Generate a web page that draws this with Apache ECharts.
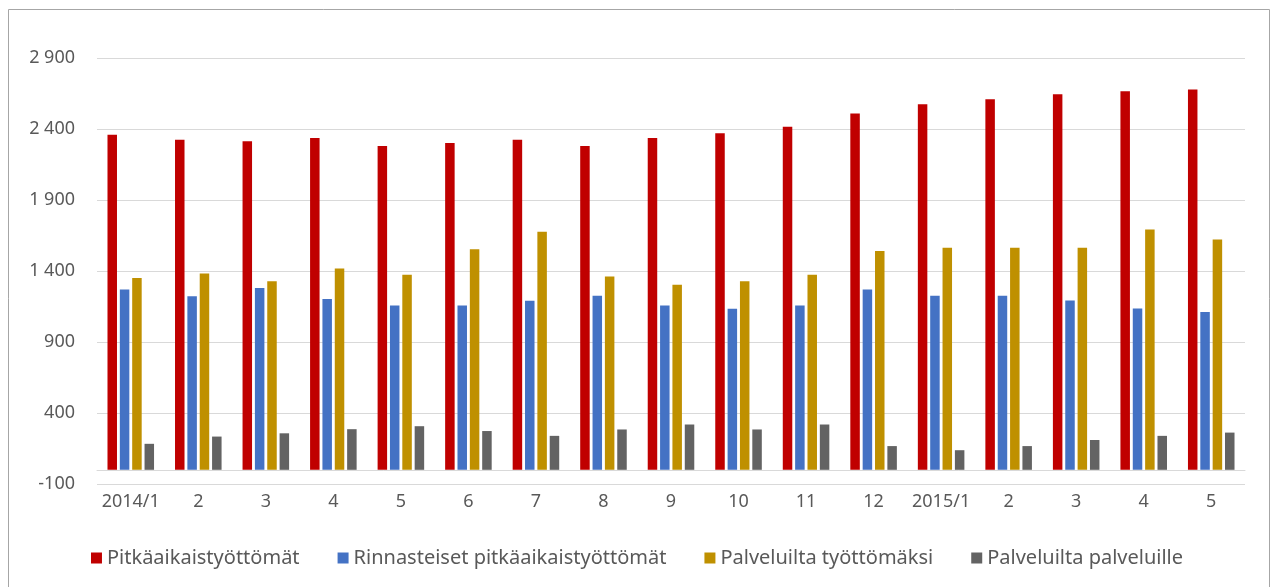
<!DOCTYPE html>
<html>
<head>
<meta charset="utf-8">
<script src="https://cdn.jsdelivr.net/npm/echarts@6/dist/echarts.min.js"></script>
<style>
html,body{margin:0;padding:0;background:#fff;}
#c{width:1274px;height:587px;}
</style>
</head>
<body>
<div id="c"></div>
<script>
const categories = ['2014/1','2','3','4','5','6','7','8','9','10','11','12','2015/1','2','3','4','5'];
const pitkaaikais = [2360,2325,2313,2336,2280,2301,2325,2280,2336,2370,2416,2510,2574,2610,2645,2666,2678];
const rinnasteiset = [1270,1223,1280,1202,1157,1157,1190,1225,1157,1134,1157,1270,1225,1225,1192,1136,1112];
const palveluiltaTyottomaksi = [1350,1383,1327,1418,1374,1553,1677,1362,1303,1327,1374,1541,1564,1564,1564,1692,1621];
const palveluiltaPalveluille = [183,234,257,286,307,273,239,284,319,284,319,167,138,167,210,239,262];
const seriesNames = ['Pitkäaikaistyöttömät','Rinnasteiset pitkäaikaistyöttömät','Palveluilta työttömäksi','Palveluilta palveluille'];
const yTickValues = [-100,400,900,1400,1900,2400,2900];
const yTickLabels = ['-100','400','900','1 400','1 900','2 400','2 900'];

const colors = ['#C00000','#4472C4','#BF9000','#636363'];
const seriesData = [pitkaaikais, rinnasteiset, palveluiltaTyottomaksi, palveluiltaPalveluille];
const FONT = 'Noto Sans';

const chart = echarts.init(document.getElementById('c'), null, {renderer:'canvas'});
chart.setOption({
  animation:false,
  backgroundColor:'#fff',
  color:colors,
  graphic:[{type:'rect', shape:{x:8.5,y:9.5,width:1261,height:600}, style:{fill:'none',stroke:'#a6a6a6',lineWidth:1}, silent:true}],
  grid:{left:97,right:29,top:58,bottom:103,containLabel:false},
  legend:{
    top:543, left:'center',
    itemWidth:11, itemHeight:11, itemGap:38,
    icon:'rect',
    textStyle:{color:'#595959',fontSize:20,fontFamily:FONT},
    data:seriesNames
  },
  xAxis:{
    type:'category', data:categories,
    axisLine:{onZero:true,lineStyle:{color:'#d9d9d9',width:1}},
    axisTick:{show:false},
    axisLabel:{color:'#595959',fontSize:18,fontFamily:FONT,margin:9,interval:0},
    splitLine:{show:false}
  },
  yAxis:{
    type:'value', min:-100, max:2900,
    axisLine:{show:false}, axisTick:{show:false, customValues:yTickValues},
    axisLabel:{color:'#595959',fontSize:18,fontFamily:FONT,margin:22,customValues:yTickValues,
      formatter:function(v){const i=yTickValues.indexOf(v);return i>=0?yTickLabels[i]:'';}},
    splitLine:{show:true,lineStyle:{color:'#d9d9d9',width:1}}
  },
  series: seriesNames.map((n,i)=>({
    name:n, type:'bar', data:seriesData[i], barWidth:9.5, barGap:'30%',
    itemStyle:{color:colors[i]}
  }))
});
</script>
</body>
</html>
